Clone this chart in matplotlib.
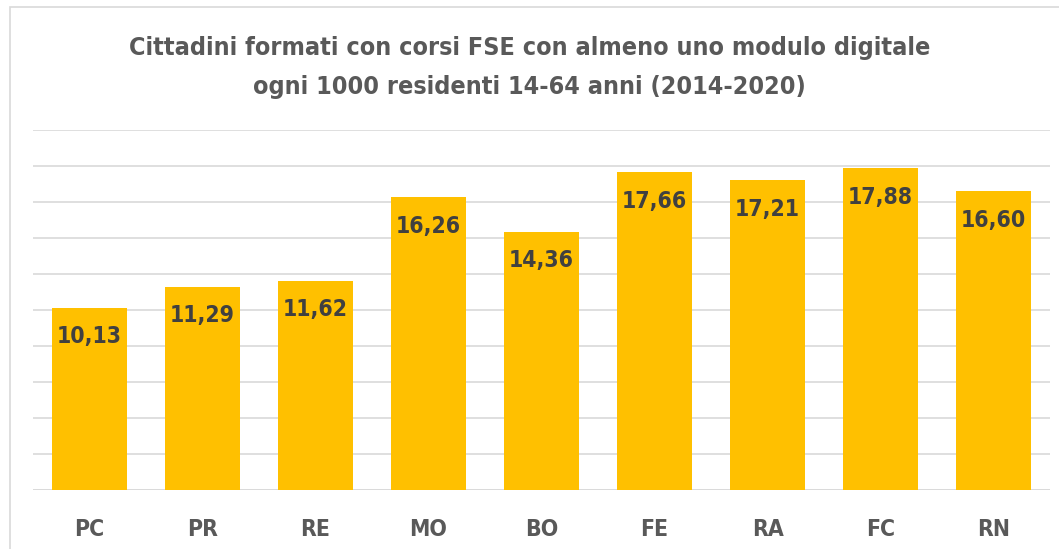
import matplotlib.pyplot as plt
from matplotlib.patches import Rectangle

provinces = ['PC', 'PR', 'RE', 'MO', 'BO', 'FE', 'RA', 'FC', 'RN']
values = [10.13, 11.29, 11.62, 16.26, 14.36, 17.66, 17.21, 17.88, 16.60]
labels = ['10,13', '11,29', '11,62', '16,26', '14,36', '17,66', '17,21', '17,88', '16,60']

plt.rcParams['font.family'] = ['DejaVu Sans']
plt.rcParams['font.stretch'] = 'condensed'

fig = plt.figure(figsize=(10.59, 5.49), dpi=100)
# chart frame
fig.patches.append(Rectangle((10 / 1059, -0.05), 1.2, (549 - 7) / 549 + 0.05,
                             transform=fig.transFigure, fill=False,
                             edgecolor='#d9d9d9', lw=1.2))

ax = fig.add_axes([33 / 1059, (549 - 490) / 549, (1050 - 33) / 1059, 360 / 549])
x = range(len(provinces))
ax.bar(x, values, width=0.66, color='#FFC000', zorder=3)
ax.set_ylim(0, 20)
ax.set_xlim(-0.5, len(provinces) - 0.5)
ax.set_yticks(range(0, 21, 2))
ax.yaxis.grid(True, color='#d9d9d9', lw=1.2, zorder=0)
ax.tick_params(axis='y', length=0, labelleft=False)
ax.tick_params(axis='x', length=0, pad=20)
ax.set_xticks(list(x))
ax.set_xticklabels(provinces, fontsize=16.5, fontweight='bold', color='#595959',
                   fontstretch='condensed')
for s in ax.spines.values():
    s.set_visible(False)
ax.axhline(0, color='#d9d9d9', lw=1.2, zorder=2)

for xi, v, lab in zip(x, values, labels):
    ax.annotate(lab, (xi, v), xytext=(0, -29), textcoords='offset pixels',
                ha='center', va='center', fontsize=16.5, fontweight='bold',
                color='#404040', zorder=4, fontstretch='condensed')

for yy, line in [(48, 'Cittadini formati con corsi FSE con almeno uno modulo digitale'),
                 (87, 'ogni 1000 residenti 14-64 anni (2014-2020)')]:
    fig.text(0.5, (549 - yy) / 549, line, ha='center', va='center', fontsize=18,
             fontweight='bold', color='#595959', fontstretch='condensed')

fig.savefig('out.png', dpi=100)
